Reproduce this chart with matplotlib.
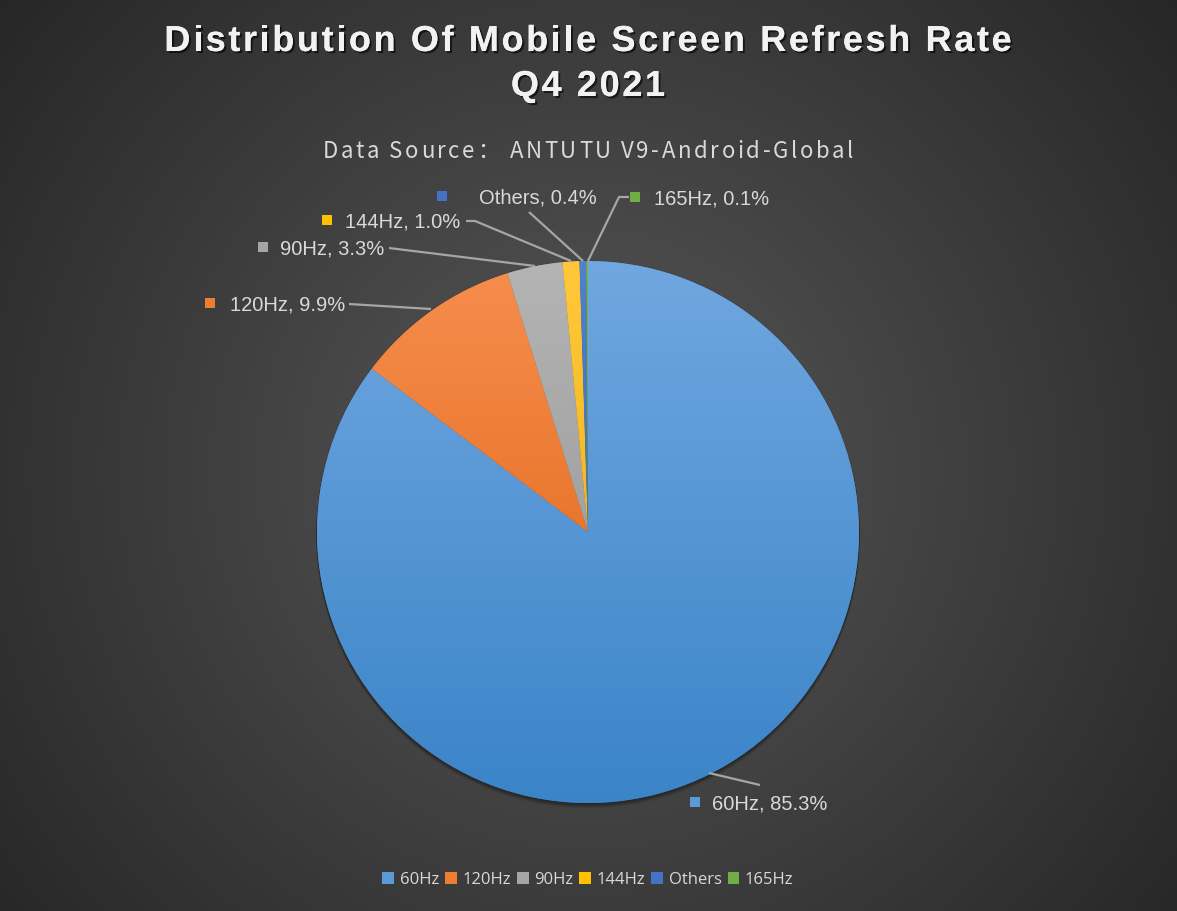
import numpy as np
import matplotlib
matplotlib.use("Agg")
import matplotlib.pyplot as plt
from matplotlib.patches import Patch, Rectangle, Circle
import matplotlib.patheffects as pe
from matplotlib.colors import to_rgb
from matplotlib import font_manager
from matplotlib.font_manager import FontProperties
from matplotlib.ft2font import FT2Font

categories = ["60Hz", "120Hz", "90Hz", "144Hz", "Others", "165Hz"]
shares = [85.3, 9.9, 3.3, 1.0, 0.4, 0.1]
colors = ["#5b9bd5", "#ed7d31", "#a5a5a5", "#ffc000", "#4472c4", "#70ad47"]
title_lines = ["Distribution Of Mobile Screen Refresh Rate", "Q4 2021"]
subtitle = "Data Source： ANTUTU V9-Android-Global"

# gradient (top, bottom) across the whole pie height, per slice
grad_stops = [("#70a7e0", "#3a84c8"), ("#f68e4e", "#dc5e0c"), ("#b4b4b4", "#8e8e8e"),
              ("#ffc83c", "#eaa800"), ("#4f80d2", "#3460ae"), ("#79b94f", "#5e9838")]

W, H = 1177, 911
fig = plt.figure(figsize=(W / 100, H / 100), dpi=100)
ax = fig.add_axes([0, 0, 1, 1])
ax.set_xlim(0, W)
ax.set_ylim(0, H)
ax.set_aspect("equal")
ax.axis("off")

def Y(y):
    return H - y

# background radial gradient
yy, xx = np.mgrid[0:H, 0:W]
cx, cy = 588, 470
d = np.sqrt((xx - cx) ** 2 + (yy - cy) ** 2) / 760.0
d = np.clip(d, 0, 1)
c0 = np.array(to_rgb("#585858"))
c1 = np.array(to_rgb("#262626"))
img = c0[None, None, :] * (1 - d[..., None]) + c1[None, None, :] * d[..., None]
ax.imshow(img, extent=(0, W, 0, H), origin="upper", zorder=0, interpolation="bilinear")

# pie
PCX, PCY, R = 588, 532, 271
for k, a in [(4, 0.08), (3, 0.12), (2, 0.16)]:
    ax.add_patch(Circle((PCX, Y(PCY + k)), R + k * 0.3, color="black", alpha=a,
                        zorder=1, linewidth=0))
wedges, _ = ax.pie(shares, colors=colors, startangle=90, counterclock=False,
                   center=(PCX, Y(PCY)), radius=R,
                   wedgeprops=dict(linewidth=0.6, edgecolor="#00000040"))
for w, (ctop, cbot) in zip(wedges, grad_stops):
    w.set_zorder(2)
    top = np.array(to_rgb(ctop))
    bot = np.array(to_rgb(cbot))
    t = np.linspace(0, 1, 256)[:, None]
    grad = top[None, :] * (1 - t) + bot[None, :] * t
    grad = np.repeat(grad[:, None, :], 2, axis=1)
    im = ax.imshow(grad, extent=(PCX - R, PCX + R, Y(PCY + R), Y(PCY - R)),
                   origin="upper", zorder=2.5, interpolation="bilinear")
    im.set_clip_path(w)
ax.set_xlim(0, W)
ax.set_ylim(0, H)

# data labels (layout in pixels from top)
label_layout = {
    "60Hz": dict(marker=(695, 802), text_x=712, line=[(709, 773), (760, 785)]),
    "120Hz": dict(marker=(210, 303), text_x=230, line=[(349, 304), (431, 309)]),
    "90Hz": dict(marker=(263, 247), text_x=280, line=[(389, 248), (535, 266)]),
    "144Hz": dict(marker=(327, 220), text_x=345, line=[(466, 221), (475, 221), (571, 261)]),
    "Others": dict(marker=(442, 196), text_x=479, line=[(529, 212), (583, 261)]),
    "165Hz": dict(marker=(635, 197), text_x=654, line=[(629, 197), (619, 197), (588, 261)]),
}
label_font = dict(family=["Liberation Sans", "DejaVu Sans"], size=14.5, color="#d9d9d9")
for cat, val, c in zip(categories, shares, colors):
    lay = label_layout[cat]
    mx, my = lay["marker"]
    ax.add_patch(Rectangle((mx - 5, Y(my) - 5), 10, 10, facecolor=c, edgecolor="none",
                           zorder=4))
    ax.text(lay["text_x"], Y(my), f"{cat}, {val:.1f}%", ha="left", va="center_baseline",
            zorder=4, **label_font)
    xs = [p[0] for p in lay["line"]]
    ys = [Y(p[1]) for p in lay["line"]]
    ax.plot(xs, ys, color="#a6a6a6", lw=1.6, zorder=3, solid_capstyle="butt")


def spaced_text(xc, y, s, size, spacing, family, weight="normal", **kw):
    fp = FontProperties(family=family, weight=weight, size=size)
    font = FT2Font(font_manager.findfont(fp))
    font.set_size(size, 100)
    advs = []
    for ch in s:
        g = font.load_char(ord(ch))
        advs.append(g.linearHoriAdvance / 65536)
    total = sum(advs) + spacing * (len(s) - 1)
    x = xc - total / 2
    for ch, a in zip(s, advs):
        if ch != " ":
            ax.text(x, y, ch, ha="left", va="baseline", fontsize=size, family=family,
                    fontweight=weight, **kw)
        x += a + spacing


shadow_fx = [pe.withSimplePatchShadow(offset=(1.5, -1.5), shadow_rgbFace="black", alpha=0.6),
             pe.Normal()]
spaced_text(588, Y(51), title_lines[0], 26, 2.6, "Liberation Sans", "bold",
            color="#f2f2f2", path_effects=shadow_fx, zorder=5)
spaced_text(588, Y(96), title_lines[1], 26, 2.6, "Liberation Sans", "bold",
            color="#f2f2f2", path_effects=shadow_fx, zorder=5)
spaced_text(588, Y(158), subtitle, 16, 2.6, "Noto Sans CJK SC",
            color="#d9d9d9", zorder=5)

# legend
handles = [Patch(facecolor=c, edgecolor="none") for c in colors]
leg = fig.legend(handles, categories, loc="center", bbox_to_anchor=(588 / W, 1 - 880 / H),
                 ncol=6, frameon=False, handlelength=0.7, handleheight=0.7,
                 handletextpad=0.35, columnspacing=0.35,
                 prop=dict(family="Open Sans", size=12))
for t in leg.get_texts():
    t.set_color("#d9d9d9")

fig.savefig("out.png", dpi=100, facecolor="#2b2b2b")
